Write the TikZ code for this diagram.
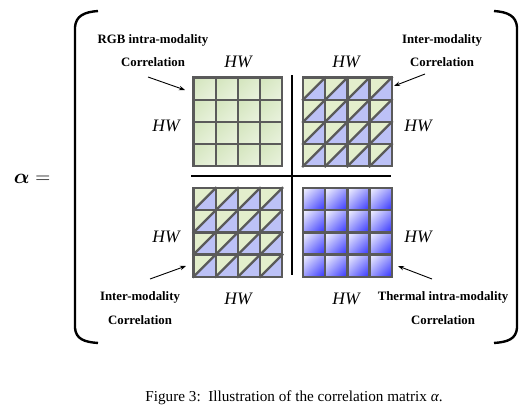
\documentclass[tikz,border=0pt]{standalone}
\usepackage{fontspec}
\setmainfont{Liberation Serif}
\usepackage{bm}
\usetikzlibrary{arrows.meta,shadings}
\definecolor{gridgray}{HTML}{5A5A5A}
\definecolor{gA}{HTML}{D2E4BB}
\definecolor{gB}{HTML}{EBF3E0}
\definecolor{gM}{HTML}{DFECCE}
\definecolor{triG}{HTML}{E3EECC}
\definecolor{triB}{HTML}{BCC1F6}
\definecolor{bW}{HTML}{F6F6FF}
\definecolor{bB}{HTML}{3030FF}
\definecolor{bM}{HTML}{9A9AFB}
\tikzset{
  lbl/.style={font=\bfseries\fontsize{12.8}{14}\selectfont, inner sep=0pt},
  hw/.style={font=\itshape\fontsize{17.5}{20}\selectfont, inner sep=0pt},
  cellline/.style={draw=gridgray, line width=2.3pt, line cap=rect},
  divider/.style={draw=black, line width=1.8pt},
  brack/.style={draw=black, line width=2.4pt},
  pointer/.style={draw=black, line width=0.9pt, -{Stealth[length=6pt,width=4.5pt]}}
}
\newcommand{\gridlines}[2]{%
  \foreach \k in {0,...,4}{
    \pgfmathsetmacro{\pp}{#1+\k*22.2}
    \pgfmathsetmacro{\qq}{#2+\k*22.2}
    \draw[cellline] (\pp,#2) -- (\pp,#2+88.8);
    \draw[cellline] (#1,\qq) -- (#1+88.8,\qq);
  }}
\begin{document}
\begin{tikzpicture}[x=1pt,y=-1pt]
\useasboundingbox (0,0) rectangle (531,415);
% brackets
\draw[brack] (98,11) .. controls (84,12) and (76,16) .. (75,27) -- (75,328) .. controls (76,339) and (84,342) .. (98,343);
\draw[brack] (494,11) .. controls (508,12) and (516,16) .. (517,27) -- (517,328) .. controls (516,339) and (508,342) .. (494,343);
% alpha
\node[font=\fontsize{21}{24}\selectfont, inner sep=0pt] (alpha) at (32,179) {$\bm{\alpha} =$};
% TL grid: green
\foreach \i in {0,...,3}{\foreach \j in {0,...,3}{
  \pgfmathsetmacro{\xa}{193.5+\i*22.2}\pgfmathsetmacro{\ya}{77.5+\j*22.2}
  \shade[upper left=gA, lower right=gB, upper right=gM, lower left=gM] (\xa,\ya) rectangle (\xa+22.2,\ya+22.2);
}}
\gridlines{193.5}{77.5}
% TR grid: split
\foreach \i in {0,...,3}{\foreach \j in {0,...,3}{
  \pgfmathsetmacro{\xa}{303+\i*22.2}\pgfmathsetmacro{\ya}{77.5+\j*22.2}
  \fill[triG] (\xa,\ya) -- (\xa+22.2,\ya) -- (\xa,\ya+22.2) -- cycle;
  \fill[triB] (\xa+22.2,\ya) -- (\xa+22.2,\ya+22.2) -- (\xa,\ya+22.2) -- cycle;
  \draw[cellline] (\xa,\ya+22.2) -- (\xa+22.2,\ya);
}}
\gridlines{303}{77.5}
% BL grid: split
\foreach \i in {0,...,3}{\foreach \j in {0,...,3}{
  \pgfmathsetmacro{\xa}{193.5+\i*22.2}\pgfmathsetmacro{\ya}{188+\j*22.2}
  \fill[triG] (\xa,\ya) -- (\xa+22.2,\ya) -- (\xa,\ya+22.2) -- cycle;
  \fill[triB] (\xa+22.2,\ya) -- (\xa+22.2,\ya+22.2) -- (\xa,\ya+22.2) -- cycle;
  \draw[cellline] (\xa,\ya+22.2) -- (\xa+22.2,\ya);
}}
\gridlines{193.5}{188}
% BR grid: blue
\foreach \i in {0,...,3}{\foreach \j in {0,...,3}{
  \pgfmathsetmacro{\xa}{303+\i*22.2}\pgfmathsetmacro{\ya}{188+\j*22.2}
  \shade[upper left=bW, lower right=bB, upper right=bM, lower left=bM] (\xa,\ya) rectangle (\xa+22.2,\ya+22.2);
}}
\gridlines{303}{188}
% dividers
\coordinate (vt) at (292,75); \coordinate (vb) at (292,275);
\coordinate (hl) at (191,176); \coordinate (hr) at (391,176);
\draw[divider] (vt) -- (vb);
\draw[divider] (hl) -- (hr);
% HW labels
\node[hw] (hwT1) at (238,62) {HW};
\node[hw] (hwT2) at (346,62) {HW};
\node[hw] (hwL1) at (166,126) {HW};
\node[hw] (hwL2) at (166,237) {HW};
\node[hw] (hwR1) at (418,126) {HW};
\node[hw] (hwR2) at (418,237) {HW};
\node[hw] (hwB1) at (238,299) {HW};
\node[hw] (hwB2) at (346,299) {HW};
% corner labels
\node[lbl] (tl1) at (153,40) {RGB intra-modality};
\node[lbl] (tl2) at (153,62) {Correlation};
\node[lbl] (tr1) at (442,40) {Inter-modality};
\node[lbl] (tr2) at (442,62) {Correlation};
\node[lbl] (bl1) at (140,297) {Inter-modality};
\node[lbl] (bl2) at (140,320) {Correlation};
\node[lbl] (br1) at (443,297) {Thermal intra-modality};
\node[lbl] (br2) at (443,320) {Correlation};
% pointers
\coordinate (pTLs) at (148,77); \coordinate (pTLe) at (185,90);
\coordinate (pTRs) at (425,74); \coordinate (pTRe) at (394,86);
\coordinate (pBLs) at (150,279); \coordinate (pBLe) at (186,266);
\coordinate (pBRs) at (432,279); \coordinate (pBRe) at (398,266);
\draw[pointer] (pTLs) -- (pTLe);
\draw[pointer] (pTRs) -- (pTRe);
\draw[pointer] (pBLs) -- (pBLe);
\draw[pointer] (pBRs) -- (pBRe);
% caption
\node[font=\fontsize{15.2}{17}\selectfont, inner sep=0pt] (cap) at (294,398) {Figure 3:\ \ Illustration of the correlation matrix {\itshape α}.};
\end{tikzpicture}
\end{document}
